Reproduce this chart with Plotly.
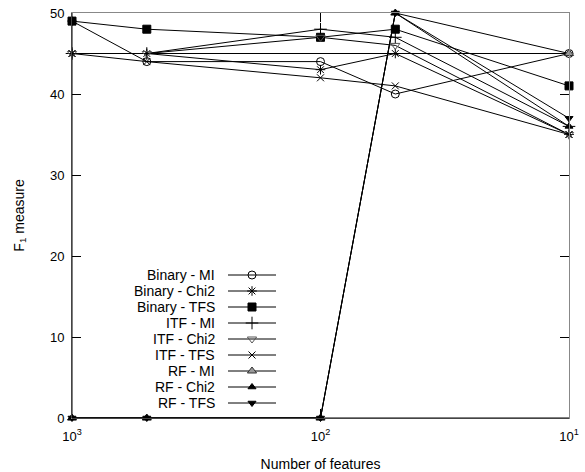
import plotly.graph_objects as go

# ---------------- data ----------------
features = [1000, 500, 100, 50, 10]
series_names = ["Binary - MI", "Binary - Chi2", "Binary - TFS",
                "ITF - MI", "ITF - Chi2", "ITF - TFS",
                "RF - MI", "RF - Chi2", "RF - TFS"]
binary_mi = [49, 44, 44, 40, 45]
binary_chi2 = [45, 45, 43, 45, 35]
binary_tfs = [49, 48, 47, 48, 41]
itf_mi = [45, 45, 48, 47, 36]
itf_chi2 = [45, 45, 47, 46, 35]
itf_tfs = [45, 44, 42, 41, 35]
rf_mi = [0, 0, 0, 50, 45]
rf_chi2 = [0, 0, 0, 50, 36]
rf_tfs = [0, 0, 0, 50, 37]
baseline = [45, 45, 45, 45, 45]
x_tickvals = [1000, 100, 10]
x_ticktext = ["10<sup>3</sup>", "10<sup>2</sup>", "10<sup>1</sup>"]

series_values = [binary_mi, binary_chi2, binary_tfs, itf_mi, itf_chi2,
                 itf_tfs, rf_mi, rf_chi2, rf_tfs]

# marker styles: (symbol, size, fill color, line color)
styles = [
    ("circle-open", 8, "black", "black"),
    ("asterisk-open", 8, "black", "black"),
    ("square", 8, "black", "black"),
    ("cross-thin-open", 9, "black", "black"),
    ("triangle-down-open", 8, "#555555", "#555555"),
    ("x-thin-open", 7, "black", "black"),
    ("triangle-up", 8, "#999999", "#333333"),
    ("triangle-up", 7, "black", "black"),
    ("triangle-down", 7, "black", "black"),
]

W, H = 585, 472
L, R, T, B = 72, 16, 13, 54
pw, ph = W - L - R, H - T - B
XLOG_RANGE = [3, 1]
Y_RANGE = [0, 50]

fig = go.Figure()

fig.add_trace(go.Scatter(x=features, y=baseline, mode="lines",
                         line=dict(color="black", width=1),
                         showlegend=False, hoverinfo="skip"))

for name, vals, st in zip(series_names, series_values, styles):
    fig.add_trace(go.Scatter(
        x=features, y=vals, mode="lines+markers", name=name,
        line=dict(color="black", width=1),
        marker=dict(symbol=st[0], size=st[1], color=st[2],
                    line=dict(color=st[3], width=1)),
        cliponaxis=False, showlegend=False))

# ---------------- custom legend (text left, sample right) -------------
leg_text_right = 216
leg_line_x0, leg_line_x1 = 228, 276
leg_y0, leg_dy = 275, 16


def px_to_paper_x(px):
    return (px - L) / pw


def px_to_paper_y(py):
    return (H - B - py) / ph


def paper_to_data_x(xp):
    return 10 ** (XLOG_RANGE[0] + xp * (XLOG_RANGE[1] - XLOG_RANGE[0]))


def paper_to_data_y(yp):
    return Y_RANGE[0] + yp * (Y_RANGE[1] - Y_RANGE[0])


for i, (name, st) in enumerate(zip(series_names, styles)):
    py = leg_y0 + i * leg_dy
    yp = px_to_paper_y(py)
    fig.add_annotation(x=px_to_paper_x(leg_text_right), y=yp, xref="paper",
                       yref="paper", text=name, showarrow=False,
                       xanchor="right", yanchor="middle", borderpad=0,
                       font=dict(family="Liberation Sans, Arial", size=14,
                                 color="black"))
    xa, xb = px_to_paper_x(leg_line_x0), px_to_paper_x(leg_line_x1)
    yd = paper_to_data_y(yp)
    fig.add_trace(go.Scatter(x=[paper_to_data_x(xa), paper_to_data_x(xb)],
                             y=[yd, yd], mode="lines",
                             line=dict(color="black", width=1),
                             showlegend=False, hoverinfo="skip"))
    fig.add_trace(go.Scatter(x=[paper_to_data_x((xa + xb) / 2)], y=[yd],
                             mode="markers",
                             marker=dict(symbol=st[0], size=st[1], color=st[2],
                                         line=dict(color=st[3], width=1)),
                             showlegend=False, cliponaxis=False,
                             hoverinfo="skip"))

# black left / bottom border over the gray frame (gnuplot look)
for x0, y0, x1, y1 in [(0, 0, 1, 0), (0, 0, 0, 1)]:
    fig.add_shape(type="line", xref="paper", yref="paper",
                  x0=x0, y0=y0, x1=x1, y1=y1,
                  line=dict(color="black", width=1), layer="above")

axis_font = dict(family="Liberation Sans, Arial", size=13, color="black")

fig.update_layout(
    width=W, height=H,
    margin=dict(l=L, r=R, t=T, b=B, autoexpand=False),
    paper_bgcolor="white", plot_bgcolor="white",
    font=axis_font,
    showlegend=False,
    xaxis=dict(type="log", range=XLOG_RANGE, tickvals=x_tickvals,
               ticktext=x_ticktext, ticks="inside", ticklen=9,
               tickcolor="black", showline=True, linecolor="#888888",
               linewidth=1, mirror="ticks", showgrid=False, zeroline=False,
               tickfont=axis_font, ticklabelstandoff=6, automargin=False,
               title=dict(text="Number of features",
                          font=dict(family="Liberation Sans, Arial", size=14),
                          standoff=16)),
    yaxis=dict(range=Y_RANGE, dtick=10, ticks="inside", ticklen=9,
               tickcolor="black", showline=True, linecolor="#888888",
               linewidth=1, mirror="ticks", showgrid=False, zeroline=False,
               tickfont=axis_font, ticklabelstandoff=4, automargin=False,
               title=dict(text="F<sub>1</sub> measure",
                          font=dict(family="Liberation Sans, Arial", size=14),
                          standoff=22)),
)

fig.write_html("out.html")
